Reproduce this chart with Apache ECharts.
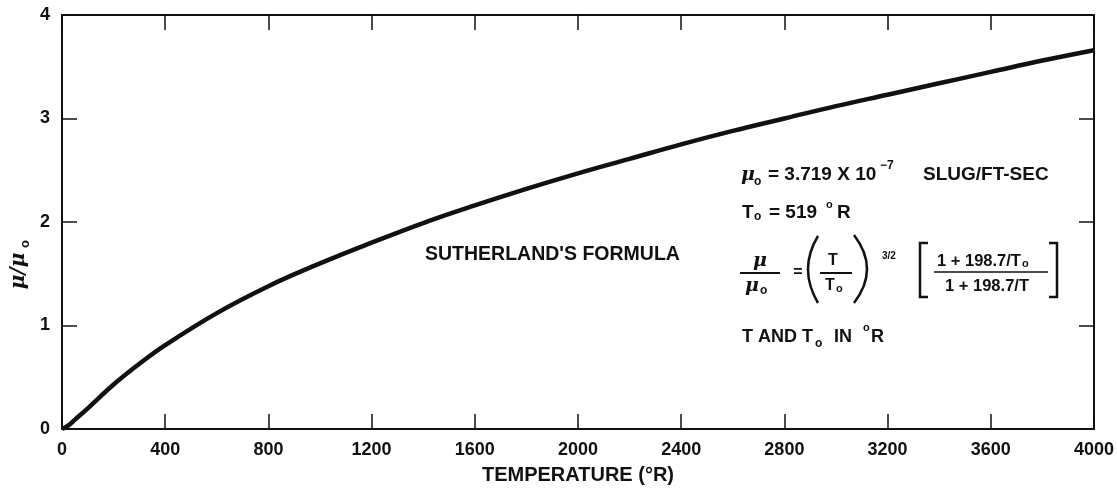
<!DOCTYPE html>
<html>
<head>
<meta charset="utf-8">
<script src="https://cdn.jsdelivr.net/npm/echarts@6/dist/echarts.min.js"></script>
<style>
html,body{margin:0;padding:0;background:#fff;}
#chart{width:1117px;height:498px;}
</style>
</head>
<body>
<div id="chart"></div>
<script>
// Temperature (deg R)
const temperatures = [0, 25, 50, 100, 200, 300, 400, 600, 800, 1000, 1200, 1400, 1600, 1800, 2000, 2200, 2400, 2600, 2800, 3000, 3200, 3400, 3600, 3800, 4000];
// Viscosity ratio mu/mu0
const viscosityRatio = [0, 0.035, 0.09, 0.20, 0.43, 0.63, 0.81, 1.12, 1.38, 1.60, 1.80, 1.99, 2.16, 2.32, 2.47, 2.61, 2.75, 2.88, 3.00, 3.12, 3.23, 3.34, 3.45, 3.56, 3.66];
const xTicks = {min: 0, max: 4000, interval: 400};
const yTicks = {min: 0, max: 4, interval: 1};

const FONT = '"Liberation Sans", Arial, sans-serif';
const INK = '#111';

const chart = echarts.init(document.getElementById('chart'), null, {renderer: 'canvas'});

function txt(x, y, s, size, opts) {
  opts = opts || {};
  return {
    type: 'text', x: x, y: y, silent: true,
    style: Object.assign({
      text: s, fill: INK, font: (opts.weight || 'bold') + ' ' + size + 'px ' + FONT,
      textAlign: opts.align || 'left', textVerticalAlign: 'middle'
    }, opts.style || {})
  };
}
function hline(x1, x2, y, w) {
  return {type: 'line', silent: true, shape: {x1: x1, y1: y, x2: x2, y2: y}, style: {stroke: INK, lineWidth: w || 2}};
}
const MU_FONT = 'italic bold 19px "DejaVu Serif", serif';

const points = temperatures.map((t, i) => [t, viscosityRatio[i]]);

function axisBase() {
  return {
    type: 'value',
    axisLine: {show: true, onZero: false, lineStyle: {color: INK, width: 2}},
    axisTick: {show: true, inside: true, length: 15, lineStyle: {color: INK, width: 1.5}},
    splitLine: {show: false},
    minorTick: {show: false}
  };
}

const graphics = [
  // mu0 line
  txt(741, 175, 'μ', 19, {style: {font: MU_FONT}}),
  txt(754, 182, 'o', 12),
  txt(768, 175, '= 3.719 X 10', 19),
  txt(880, 166, '−7', 12),
  txt(923, 175, 'SLUG/FT-SEC', 19),
  // T0 line
  txt(742, 213, 'T', 19),
  txt(754, 217, 'o', 12),
  txt(769, 213, '= 519', 19),
  txt(826, 205, 'o', 11),
  txt(837, 213, 'R', 19),
  // formula: mu / mu0
  txt(760, 261, 'μ', 19, {align: 'center', style: {font: MU_FONT}}),
  hline(740, 780, 273, 2),
  txt(752, 286, 'μ', 19, {align: 'center', style: {font: MU_FONT}}),
  txt(760, 291, 'o', 12),
  txt(798, 273, '=', 16, {align: 'center'}),
  // ( T / T0 )
  {type: 'bezierCurve', silent: true, shape: {x1: 818, y1: 236, x2: 818, y2: 303, cpx1: 798, cpy1: 269}, style: {stroke: INK, lineWidth: 2.5, fill: null}},
  {type: 'bezierCurve', silent: true, shape: {x1: 854, y1: 235, x2: 854, y2: 303, cpx1: 880, cpy1: 269}, style: {stroke: INK, lineWidth: 2.5, fill: null}},
  txt(833, 261, 'T', 16, {align: 'center'}),
  hline(820, 852, 273, 2),
  txt(830, 286, 'T', 16, {align: 'center'}),
  txt(836, 289, 'o', 11),
  txt(882, 256, '3/2', 10),
  // [ (1 + 198.7/T0) / (1 + 198.7/T) ]
  {type: 'polyline', silent: true, shape: {points: [[928, 243], [920, 243], [920, 297], [928, 297]]}, style: {stroke: INK, lineWidth: 2.5, fill: null}},
  {type: 'polyline', silent: true, shape: {points: [[1049, 243], [1057, 243], [1057, 297], [1049, 297]]}, style: {stroke: INK, lineWidth: 2.5, fill: null}},
  txt(937, 261, '1 + 198.7/T', 16.5),
  txt(1022, 264, 'o', 11),
  hline(934, 1048, 272, 1.5),
  txt(987, 286, '1 + 198.7/T', 16.5, {align: 'center'}),
  // T AND T0 IN R
  txt(742, 337, 'T AND T', 18),
  txt(815, 344, 'o', 12),
  txt(834, 337, 'IN', 18),
  txt(863, 328, 'o', 11),
  txt(871, 337, 'R', 18),
  // label
  txt(425, 255, 'SUTHERLAND\'S FORMULA', 19.5),
  // y axis name
  {
    type: 'group', x: 19, y: 265, rotation: Math.PI / 2, silent: true,
    children: [
      {type: 'text', x: -6, y: 0, style: {text: 'μ/μ', fill: INK, font: 'italic bold 20px "DejaVu Serif", serif', textAlign: 'center', textVerticalAlign: 'middle'}},
      {type: 'text', x: 21, y: 6, style: {text: 'o', fill: INK, font: 'bold 13px ' + FONT, textAlign: 'center', textVerticalAlign: 'middle'}}
    ]
  }
];

const plainLabel = v => String(v);

chart.setOption({
  animation: false,
  backgroundColor: '#fff',
  grid: {left: 62, right: 22, top: 15, bottom: 69, containLabel: false},
  xAxis: [
    Object.assign(axisBase(), {
      position: 'bottom', min: xTicks.min, max: xTicks.max, interval: xTicks.interval,
      name: 'TEMPERATURE (°R)', nameLocation: 'middle', nameGap: 36,
      nameTextStyle: {color: INK, fontFamily: FONT, fontWeight: 'bold', fontSize: 20},
      axisLabel: {color: INK, fontFamily: FONT, fontWeight: 'bold', fontSize: 18, margin: 12, formatter: plainLabel}
    }),
    Object.assign(axisBase(), {
      position: 'top', min: xTicks.min, max: xTicks.max, interval: xTicks.interval,
      axisLabel: {show: false}
    })
  ],
  yAxis: [
    Object.assign(axisBase(), {
      position: 'left', min: yTicks.min, max: yTicks.max, interval: yTicks.interval,
      axisLabel: {color: INK, fontFamily: FONT, fontWeight: 'bold', fontSize: 18, margin: 12, formatter: plainLabel}
    }),
    Object.assign(axisBase(), {
      position: 'right', min: yTicks.min, max: yTicks.max, interval: yTicks.interval,
      axisLabel: {show: false}
    })
  ],
  series: [{
    type: 'line',
    data: points,
    smooth: 0.4,
    showSymbol: false,
    symbol: 'none',
    lineStyle: {color: INK, width: 4.5},
    silent: true
  }],
  graphic: graphics
});
</script>
</body>
</html>
